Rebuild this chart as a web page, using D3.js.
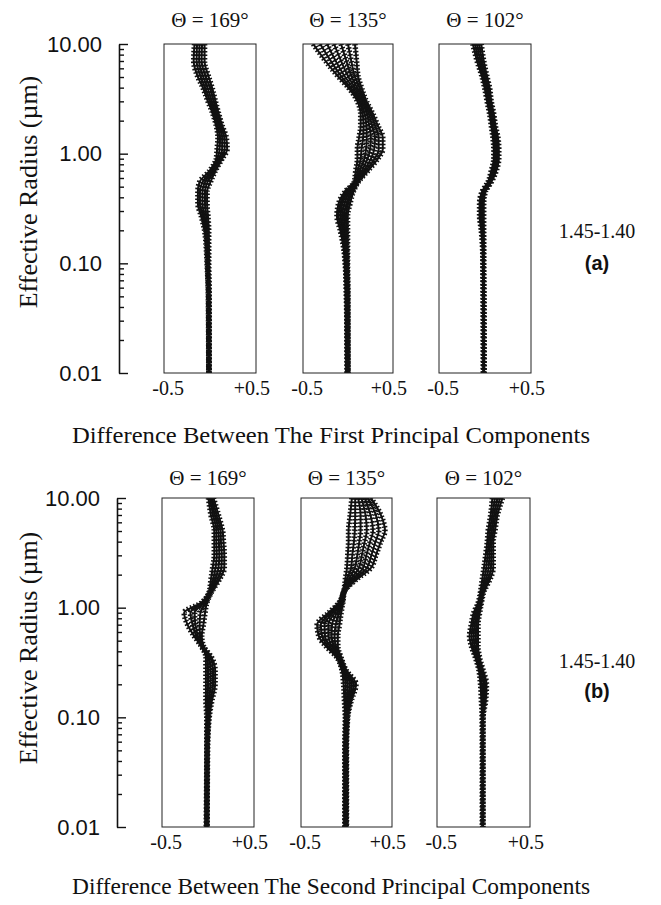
<!DOCTYPE html>
<html>
<head>
<meta charset="utf-8">
<script src="https://cdn.jsdelivr.net/npm/d3@7"></script>
<style>
  body { margin: 0; background: #fff; }
</style>
</head>
<body>
<div id="chart"></div>
<script>
// effective radius grid (um), top of the box to bottom
const radii = [10, 7, 5, 4, 3, 2.3, 1.8, 1.4, 1.1, 0.9, 0.7, 0.55, 0.45, 0.35, 0.27, 0.2, 0.14, 0.1, 0.05, 0.01]
const angles = ["169", "135", "102"]
const majorTicks = [0.01, 0.1, 1, 10]
const xTicks = [-0.5, 0.5]
const xTickLabels = ["-0.5", "+0.5"]

// (a) difference between the first principal components, one array per curve
const a169 = [
    [-0.185,-0.195,-0.145,-0.085,-0.025,0.035,0.075,0.095,0.085,0.075,-0.005,-0.125,-0.145,-0.145,-0.105,-0.065,-0.045,-0.035,-0.02,-0.015],
    [-0.155,-0.16,-0.11,-0.06,0.0,0.05,0.09,0.12,0.115,0.09,0.015,-0.09,-0.12,-0.12,-0.085,-0.05,-0.035,-0.03,-0.018,-0.014],
    [-0.125,-0.13,-0.08,-0.03,0.02,0.07,0.11,0.145,0.145,0.11,0.03,-0.06,-0.09,-0.09,-0.065,-0.04,-0.03,-0.025,-0.015,-0.012],
    [-0.095,-0.1,-0.05,0.0,0.045,0.09,0.13,0.17,0.175,0.13,0.05,-0.03,-0.06,-0.06,-0.045,-0.025,-0.02,-0.02,-0.012,-0.011],
    [-0.065,-0.065,-0.015,0.025,0.065,0.105,0.145,0.195,0.205,0.145,0.065,0.005,-0.035,-0.035,-0.025,-0.015,-0.015,-0.015,-0.01,-0.01]
]
const a135 = [
    [-0.425,-0.275,-0.115,0.005,0.115,0.155,0.155,0.135,0.115,0.115,0.095,0.075,-0.035,-0.115,-0.135,-0.095,-0.055,-0.035,-0.02,-0.01],
    [-0.34,-0.21,-0.075,0.03,0.135,0.18,0.19,0.185,0.165,0.155,0.12,0.085,-0.02,-0.09,-0.115,-0.08,-0.045,-0.03,-0.017,-0.008],
    [-0.255,-0.15,-0.035,0.06,0.15,0.205,0.225,0.23,0.22,0.2,0.145,0.09,0.0,-0.07,-0.09,-0.065,-0.04,-0.025,-0.013,-0.007],
    [-0.17,-0.085,0.005,0.085,0.17,0.23,0.26,0.28,0.27,0.24,0.17,0.1,0.015,-0.045,-0.07,-0.05,-0.03,-0.02,-0.01,-0.005],
    [-0.085,-0.02,0.045,0.11,0.19,0.255,0.295,0.33,0.32,0.28,0.195,0.11,0.03,-0.02,-0.05,-0.035,-0.02,-0.015,-0.007,-0.003],
    [0.0,0.04,0.085,0.14,0.205,0.28,0.33,0.375,0.375,0.325,0.22,0.115,0.05,0.0,-0.025,-0.02,-0.015,-0.01,-0.003,-0.002],
    [0.085,0.105,0.125,0.165,0.225,0.305,0.365,0.425,0.425,0.365,0.245,0.125,0.065,0.025,-0.005,-0.005,-0.005,-0.005,0.0,0.0]
]
const a102 = [
    [-0.145,-0.095,-0.035,-0.005,0.025,0.055,0.075,0.095,0.105,0.105,0.075,0.035,-0.035,-0.065,-0.065,-0.045,-0.03,-0.025,-0.022,-0.02],
    [-0.12,-0.075,-0.02,0.01,0.04,0.07,0.09,0.11,0.12,0.12,0.09,0.045,-0.025,-0.055,-0.055,-0.035,-0.025,-0.022,-0.02,-0.018],
    [-0.095,-0.055,-0.005,0.025,0.05,0.08,0.1,0.125,0.135,0.135,0.105,0.055,-0.015,-0.04,-0.04,-0.03,-0.02,-0.02,-0.017,-0.015],
    [-0.07,-0.035,0.01,0.04,0.065,0.095,0.115,0.14,0.15,0.15,0.12,0.065,-0.005,-0.025,-0.025,-0.02,-0.018,-0.018,-0.015,-0.012],
    [-0.045,-0.015,0.025,0.055,0.075,0.105,0.125,0.155,0.165,0.165,0.135,0.075,0.005,-0.015,-0.015,-0.015,-0.015,-0.015,-0.012,-0.01]
]

// (b) difference between the second principal components
const b169 = [
    [0.005,0.035,0.075,0.075,0.075,0.055,0.035,0.015,-0.085,-0.285,-0.245,-0.165,-0.085,-0.025,-0.025,-0.025,-0.025,-0.015,-0.015,-0.02],
    [0.02,0.06,0.1,0.1,0.105,0.09,0.06,0.022,-0.07,-0.21,-0.185,-0.14,-0.078,-0.008,0.0,0.0,-0.008,-0.008,-0.012,-0.018],
    [0.035,0.08,0.125,0.13,0.135,0.125,0.085,0.03,-0.05,-0.16,-0.15,-0.12,-0.07,0.01,0.03,0.03,0.01,0.0,-0.01,-0.015],
    [0.05,0.1,0.15,0.155,0.165,0.16,0.11,0.038,-0.03,-0.09,-0.1,-0.095,-0.062,0.028,0.06,0.06,0.028,0.008,-0.008,-0.012],
    [0.065,0.125,0.175,0.185,0.195,0.195,0.135,0.045,-0.015,-0.035,-0.055,-0.075,-0.055,0.045,0.085,0.085,0.045,0.015,-0.005,-0.01]
]
const b135 = [
    [0.065,0.045,0.025,0.025,0.015,0.005,-0.015,-0.035,-0.095,-0.215,-0.355,-0.335,-0.255,-0.115,-0.055,-0.035,-0.025,-0.015,-0.02,-0.02],
    [0.105,0.105,0.1,0.09,0.07,0.055,0.005,-0.033,-0.087,-0.19,-0.31,-0.295,-0.23,-0.107,-0.047,-0.01,-0.012,-0.01,-0.017,-0.017],
    [0.14,0.17,0.17,0.155,0.13,0.1,0.03,-0.032,-0.078,-0.165,-0.265,-0.26,-0.205,-0.098,-0.038,0.015,0.002,-0.005,-0.013,-0.013],
    [0.18,0.23,0.245,0.22,0.185,0.15,0.05,-0.03,-0.07,-0.14,-0.22,-0.22,-0.18,-0.09,-0.03,0.04,0.015,0.0,-0.01,-0.01],
    [0.22,0.29,0.32,0.285,0.24,0.2,0.07,-0.028,-0.062,-0.115,-0.175,-0.18,-0.155,-0.082,-0.022,0.065,0.028,0.005,-0.007,-0.007],
    [0.255,0.355,0.39,0.35,0.3,0.245,0.095,-0.027,-0.053,-0.09,-0.13,-0.145,-0.13,-0.073,-0.013,0.09,0.042,0.01,-0.003,-0.003],
    [0.295,0.415,0.465,0.415,0.355,0.295,0.115,-0.025,-0.045,-0.065,-0.085,-0.105,-0.105,-0.065,-0.005,0.115,0.055,0.015,0.0,0.0]
]
const b102 = [
    [0.105,0.085,0.055,0.045,0.025,0.005,-0.015,-0.035,-0.065,-0.115,-0.145,-0.165,-0.145,-0.095,-0.055,-0.035,-0.025,-0.015,-0.012,-0.012],
    [0.135,0.105,0.075,0.062,0.048,0.032,0.008,-0.025,-0.055,-0.098,-0.125,-0.14,-0.125,-0.082,-0.042,-0.018,-0.012,-0.012,-0.011,-0.011],
    [0.165,0.125,0.095,0.08,0.07,0.06,0.03,-0.015,-0.045,-0.08,-0.105,-0.115,-0.105,-0.07,-0.03,0.0,0.0,-0.01,-0.01,-0.01],
    [0.195,0.145,0.115,0.098,0.092,0.088,0.052,-0.005,-0.035,-0.062,-0.085,-0.09,-0.085,-0.058,-0.018,0.018,0.012,-0.008,-0.009,-0.009],
    [0.225,0.165,0.135,0.115,0.115,0.115,0.075,0.005,-0.025,-0.045,-0.065,-0.065,-0.065,-0.045,-0.005,0.035,0.025,-0.005,-0.008,-0.008]
]

const serif = "'Liberation Serif', 'DejaVu Serif', serif"
const sans = "'Liberation Sans', Arial, sans-serif"

// layout of the two figure rows
const rows = [
    { top: 44, bottom: 373, axisX: 119, lefts: [164, 303, 439], widths: [92, 90, 92], titleY: 27,
      panels: [a169, a135, a102], caption: "Difference Between The First Principal Components", captionY: 443,
      labelY: 192, rangeY: 238, tag: "(a)", tagY: 270 },
    { top: 498, bottom: 827, axisX: 117, lefts: [162, 301, 437], widths: [92, 91, 93], titleY: 485,
      panels: [b169, b135, b102], caption: "Difference Between The Second Principal Components", captionY: 894,
      labelY: 648, rangeY: 668, tag: "(b)", tagY: 698 }
]

const svg = d3.select('#chart')
    .append('svg')
    .attr('width', 661)
    .attr('height', 905)
    .style('background', '#fff')

const isMajor = d => majorTicks.some(m => Math.abs(m - d) < 1e-9)

rows.forEach((row, ri) => {
    const y = d3.scaleLog().domain([0.01, 10]).range([row.bottom, row.top])

    // y axis, ticks pointing right, labels on the left
    const axis = svg.append('g')
        .attr('transform', `translate(${row.axisX},0)`)
        .call(d3.axisLeft(y)
            .tickValues(y.ticks())
            .tickSizeInner(-5)
            .tickSizeOuter(0)
            .tickPadding(17)
            .tickFormat(d => isMajor(d) ? d3.format('.2f')(d) : ''))
    axis.select('.domain').attr('stroke', '#111').attr('stroke-width', 1.6)
    axis.selectAll('.tick line')
        .attr('stroke', '#111')
        .attr('stroke-width', 1.4)
        .attr('x2', d => isMajor(d) ? 9 : 5)
    axis.selectAll('.tick text')
        .attr('fill', '#111')
        .style('font-family', sans)
        .style('font-size', '22px')

    svg.append('text')
        .attr('transform', `translate(37,${row.labelY}) rotate(-90)`)
        .attr('text-anchor', 'middle')
        .style('font-family', serif)
        .style('font-size', '26px')
        .attr('fill', '#111')
        .text('Effective Radius (\u00b5m)')

    row.panels.forEach((curves, pi) => {
        const left = row.lefts[pi]
        const w = row.widths[pi]
        const x = d3.scaleLinear().domain([-0.55, 0.55]).range([left, left + w])
        const clipId = `clip-${ri}-${pi}`
        svg.append('clipPath').attr('id', clipId)
            .append('rect')
            .attr('x', left).attr('y', row.top)
            .attr('width', w).attr('height', row.bottom - row.top)

        const line = d3.line()
            .x(d => x(d[0]))
            .y(d => y(d[1]))
            .curve(d3.curveMonotoneY)

        const g = svg.append('g').attr('clip-path', `url(#${clipId})`)
        curves.forEach(values => {
            const pts = values.map((v, i) => [v, radii[i]])
            // core line
            g.append('path')
                .attr('d', line(pts))
                .attr('fill', 'none')
                .attr('stroke', '#111')
                .attr('stroke-width', 2)
            // short cross bars give the "+" marker texture
            g.append('path')
                .attr('d', line(pts))
                .attr('fill', 'none')
                .attr('stroke', '#111')
                .attr('stroke-width', 5.5)
                .attr('stroke-dasharray', '1.5 2')
        })

        svg.append('rect')
            .attr('x', left).attr('y', row.top)
            .attr('width', w).attr('height', row.bottom - row.top)
            .attr('fill', 'none')
            .attr('stroke', '#222')
            .attr('stroke-width', 1)

        svg.append('text')
            .attr('x', left + w / 2)
            .attr('y', row.titleY)
            .attr('text-anchor', 'middle')
            .style('font-family', serif)
            .style('font-size', '21px')
            .attr('fill', '#111')
            .text(`\u0398 = ${angles[pi]}\u00b0`)

        svg.selectAll(null)
            .data(xTicks)
            .enter()
            .append('text')
            .attr('x', d => x(d))
            .attr('y', row.bottom + 22)
            .attr('text-anchor', 'middle')
            .style('font-family', serif)
            .style('font-size', '20px')
            .attr('fill', '#111')
            .text((d, i) => xTickLabels[i])
    })

    svg.append('text')
        .attr('x', 331)
        .attr('y', row.captionY)
        .attr('text-anchor', 'middle')
        .attr('textLength', 518)
        .attr('lengthAdjust', 'spacingAndGlyphs')
        .style('font-family', serif)
        .style('font-size', '23px')
        .attr('fill', '#111')
        .text(row.caption)

    svg.append('text')
        .attr('x', 597)
        .attr('y', row.rangeY)
        .attr('text-anchor', 'middle')
        .style('font-family', serif)
        .style('font-size', '20px')
        .attr('fill', '#111')
        .text('1.45-1.40')

    svg.append('text')
        .attr('x', 597)
        .attr('y', row.tagY)
        .attr('text-anchor', 'middle')
        .style('font-family', sans)
        .style('font-weight', 'bold')
        .style('font-size', '20px')
        .attr('fill', '#111')
        .text(row.tag)
})
</script>
</body>
</html>
